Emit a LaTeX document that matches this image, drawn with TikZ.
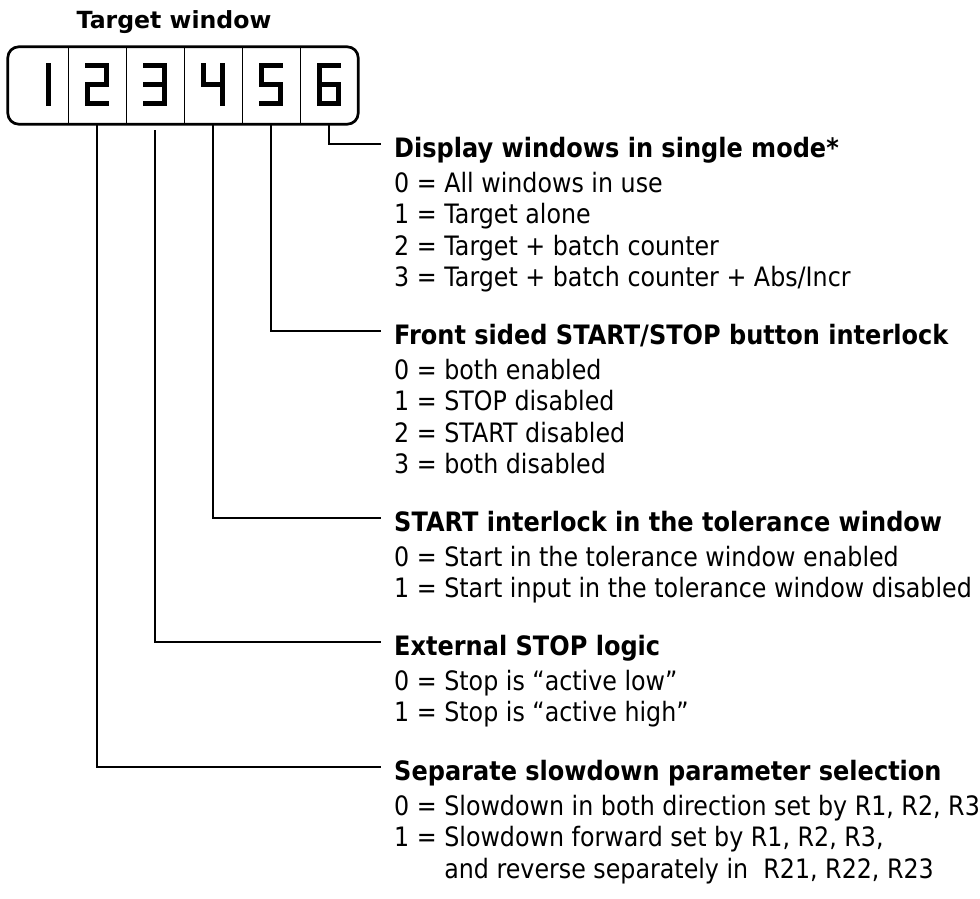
\documentclass[tikz,border=0pt]{standalone}
\usepackage{fontspec}
\setmainfont{DejaVu Sans}
\newfontfamily\itemfont{DejaVu Sans}[FakeStretch=0.89]
\newfontfamily\headfont{DejaVu Sans}[FakeStretch=0.9]
\usetikzlibrary{positioning}

\begin{document}
\begin{tikzpicture}[
  x=1pt, y=-1pt,
  node distance=0pt,
  cell/.style ={minimum width=57.6pt, minimum height=77pt, inner sep=0pt},
  seg/.style  ={line width=5pt, line cap=rect, line join=miter, xshift=-1.5pt},
  lead/.style ={line width=2pt},
  head/.style ={font=\headfont\fontsize{26.7}{31.3}\selectfont\bfseries, inner xsep=13pt, inner ysep=0pt, anchor=base west},
  items/.style={font=\itemfont\fontsize{26.7}{31.3}\selectfont, align=left, inner sep=0pt, anchor=north west},
]
  \useasboundingbox (0,0) rectangle (980,899);

  % display window
  \node[font=\fontsize{23.6}{28}\selectfont\bfseries, anchor=base] (ttl) at (174,29) {Target window};
  \node[cell, minimum width=60pt] (c1) at (38,85.5) {};
  \node[cell, right=of c1] (c2) {};
  \node[cell, right=of c2] (c3) {};
  \node[cell, right=of c3] (c4) {};
  \node[cell, right=of c4] (c5) {};
  \node[cell, right=of c5] (c6) {};
  \draw[line width=2.7pt, rounded corners=11pt] (c1.north west) rectangle (c6.south east);
  \foreach \i in {1,...,5}
    \draw[line width=1.4pt] (c\i.north east) -- (c\i.south east);

  % digits
  \draw[seg, shift={(c1.center)}] (10,-20) -- (10,18);
  \draw[seg, shift={(c2.center)}] (-9.5,-20) -- (9.5,-20) -- (9.5,-1) -- (-9.5,-1) -- (-9.5,18) -- (9.5,18);
  \draw[seg, shift={(c3.center)}] (-9.5,-20) -- (9.5,-20) -- (9.5,18) -- (-9.5,18) (-9.5,-1) -- (9.5,-1);
  \draw[seg, shift={(c4.center)}] (-9.5,-20) -- (-9.5,-1) -- (9.5,-1) (9.5,-20) -- (9.5,18);
  \draw[seg, shift={(c5.center)}] (9.5,-20) -- (-9.5,-20) -- (-9.5,-1) -- (9.5,-1) -- (9.5,18) -- (-9.5,18);
  \draw[seg, shift={(c6.center)}] (9.5,-20) -- (-9.5,-20) -- (-9.5,18) -- (9.5,18) -- (9.5,-1) -- (-9.5,-1);

  % parameter groups
  \node[head] (hdisp)  at (381,157) {Display windows in single mode*};
  \node[head] (hfront) at (381,344) {Front sided START/STOP button interlock};
  \node[head] (hstart) at (381,531) {START interlock in the tolerance window};
  \node[head] (hext)   at (381,655) {External STOP logic};
  \node[head] (hsep)   at (381,780) {Separate slowdown parameter selection};

  \node[items] (idisp)  at ([xshift=13pt,yshift=-15.2pt]hdisp.base west)
    {0 = All windows in use\\1 = Target alone\\2 = Target + batch counter\\3 = Target + batch counter + Abs/Incr};
  \node[items] (ifront) at ([xshift=13pt,yshift=-15.2pt]hfront.base west)
    {0 = both enabled\\1 = STOP disabled\\2 = START disabled\\3 = both disabled};
  \node[items] (istart) at ([xshift=13pt,yshift=-15.2pt]hstart.base west)
    {0 = Start in the tolerance window enabled\\1 = Start input in the tolerance window disabled};
  \node[items] (iext)   at ([xshift=13pt,yshift=-15.2pt]hext.base west)
    {0 = Stop is “active low”\\1 = Stop is “active high”};
  \node[items] (isep)   at ([xshift=13pt,yshift=-15.2pt]hsep.base west)
    {0 = Slowdown in both direction set by R1, R2, R3\\1 = Slowdown forward set by R1, R2, R3,\\\phantom{1 = }and reverse separately in~ R21, R22, R23};

  % leaders
  \draw[lead] (c6.south) |- ([yshift=13pt]hdisp.base west);
  \draw[lead] (c5.south) |- ([yshift=13pt]hfront.base west);
  \draw[lead] (c4.south) |- ([yshift=13pt]hstart.base west);
  \draw[lead] ([yshift=-6pt]c3.south) |- ([yshift=13pt]hext.base west);
  \draw[lead] (c2.south) |- ([yshift=13pt]hsep.base west);
\end{tikzpicture}
\end{document}
